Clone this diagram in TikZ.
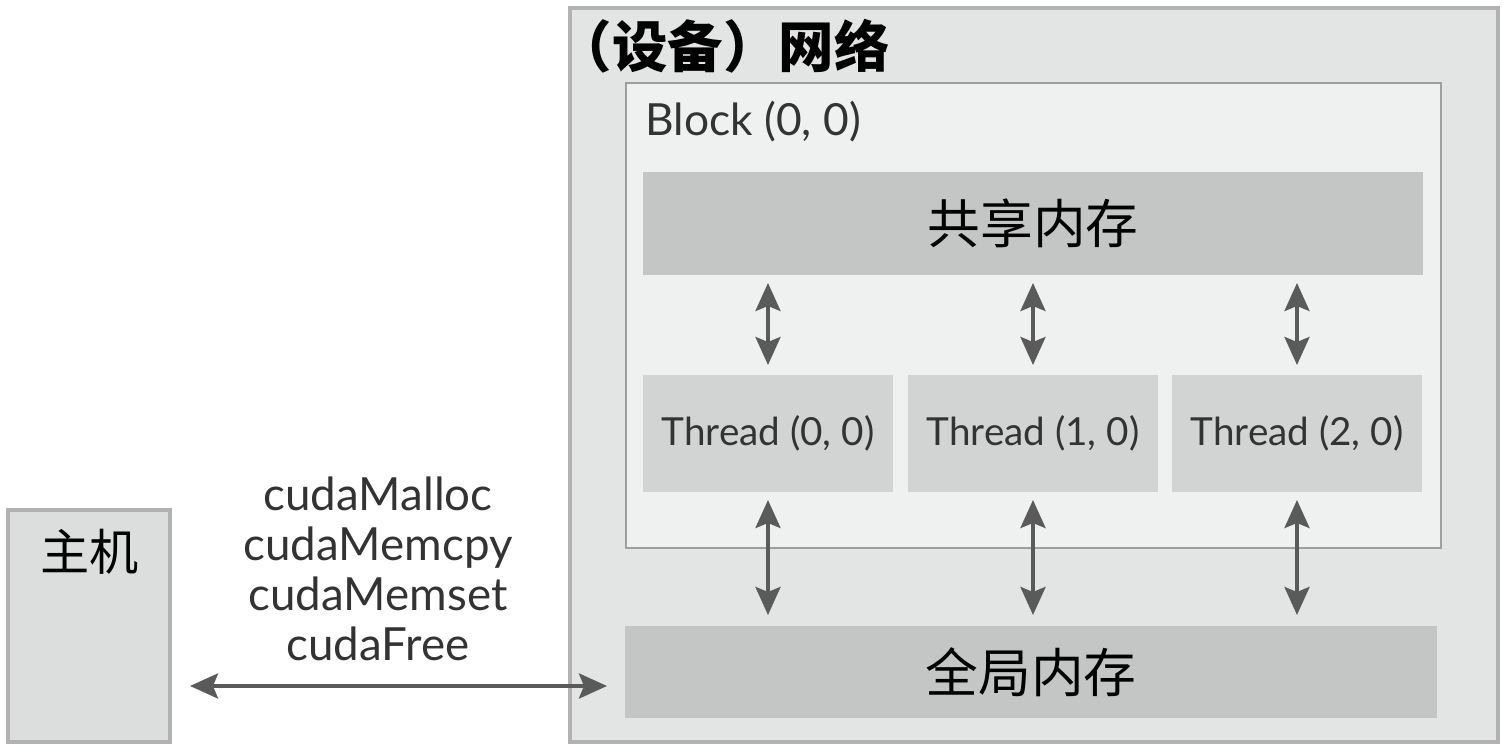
\documentclass[tikz,border=0pt]{standalone}
\usepackage{fontspec}
\setmainfont{Lato}
\newfontfamily\cjk{Noto Sans CJK SC}
\usetikzlibrary{positioning}
\usetikzlibrary{arrows.meta}
\definecolor{devgray}{HTML}{E3E5E5}
\definecolor{blkgray}{HTML}{EFF1F1}
\definecolor{memgray}{HTML}{C4C6C6}
\definecolor{thrgray}{HTML}{D2D4D4}
\definecolor{hostgray}{HTML}{DCDEDE}
\definecolor{arrgray}{HTML}{5A5A5A}
\tikzset{
    boxnode/.style = {rectangle, inner sep=0pt, outer sep=0pt, align=center},
    hostnode/.style = {boxnode, draw=gray!60, line width=1pt, fill=hostgray},
    devnode/.style = {boxnode, draw=gray!60, line width=1.2pt, fill=devgray},
    blknode/.style = {boxnode, draw=gray!75, line width=0.8pt, fill=blkgray},
    memnode/.style = {boxnode, fill=memgray, font=\cjk\fontsize{15}{18}\selectfont},
    thrnode/.style = {boxnode, fill=thrgray, minimum width=2.5cm, minimum height=1.17cm, font=\fontsize{11}{13}\selectfont, text=black!80},
    edgea/.style = {{Stealth[length=0.28cm,width=0.25cm,inset=0.05cm]}-{Stealth[length=0.28cm,width=0.25cm,inset=0.05cm]}, line width=1.1pt, arrgray}
}
\begin{document}
\begin{tikzpicture}
  \useasboundingbox (0,0) rectangle (15.06,7.5);
  % host and device
  \node[hostnode, minimum width=1.62cm, minimum height=2.32cm] (host) at (0.89,1.24) {};
  \node[devnode, minimum width=9.28cm, minimum height=7.34cm] (dev) at (10.34,3.75) {};
  \node[anchor=west, inner sep=0pt, font=\cjk\bfseries\fontsize{15.8}{18}\selectfont] (devlbl) at (5.56,7.04) {（设备）网络};
  \node[inner sep=0pt, font=\cjk\fontsize{14}{17}\selectfont] (hostlbl) at (0.90,1.98) {主机};
  % block
  \node[blknode, minimum width=8.15cm, minimum height=4.65cm] (blk) at (10.335,4.345) {};
  \node[anchor=west, inner sep=0pt, font=\fontsize{12.6}{14}\selectfont, text=black!80] (blklbl) at (6.45,6.28) {Block (0, 0)};
  \node[memnode, minimum width=7.80cm, minimum height=1.03cm] (sm) at (10.33,5.265) {共享内存};
  \node[thrnode] (t0) at (7.68,3.165) {Thread (0, 0)};
  \node[thrnode, right=0.15cm of t0] (t1) {Thread (1, 0)};
  \node[thrnode, right=0.14cm of t1] (t2) {Thread (2, 0)};
  \node[memnode, minimum width=8.12cm, minimum height=0.92cm] (gm) at (10.31,0.78) {全局内存};
  % calls
  \node[align=center, inner sep=0pt, font=\fontsize{13}{14.2}\selectfont, text=black!80] (calls) at (3.78,1.81)
    {cudaMalloc\\cudaMemcpy\\cudaMemset\\cudaFree};
  % arrows
  \foreach \t in {t0,t1,t2} {
    \draw[edgea] ([yshift=-0.08cm]sm.south -| \t.north) -- ([yshift=0.1cm]\t.north);
    \draw[edgea] ([yshift=-0.08cm]\t.south) -- ([yshift=0.11cm]gm.north -| \t.south);
  }
  \coordinate (hy) at (0,0.64);
  \draw[edgea] ([xshift=0.2cm]host.east |- hy) -- ([xshift=-0.18cm]gm.west |- hy);
\end{tikzpicture}
\end{document}
